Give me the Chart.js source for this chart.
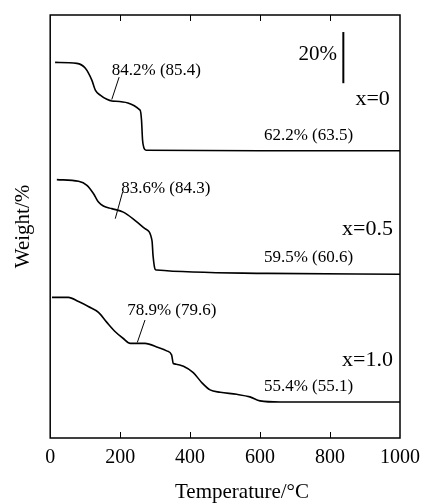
<!DOCTYPE html>
<html>
<head>
<meta charset="utf-8">
<script src="https://cdn.jsdelivr.net/npm/chart.js@4/dist/chart.umd.min.js"></script>
<style>
  html, body { margin: 0; padding: 0; background: #fff; }
  #wrap { width: 423px; height: 504px; }
</style>
</head>
<body>
<div id="wrap"><canvas id="tga"></canvas></div>
<script>
// TGA curves (temperature in C, weight in %)
const temps0 = [14, 76, 100, 119, 129, 143, 162, 176, 257, 261, 264, 268, 274, 600, 1000];
const weights0 = [100, 99.6, 97.6, 92.4, 88.1, 86.0, 84.2, 83.5, 79.6, 75.4, 66.8, 63.4, 62.4, 62.2, 62.2];

const temps05 = [19, 81, 105, 124, 138, 152, 176, 209, 243, 271, 291, 294, 300, 304, 619, 1000];
const weights05 = [100, 99.3, 97.6, 94.0, 90.4, 88.7, 87.6, 86.1, 82.5, 79.0, 73.9, 67.5, 61.6, 61.3, 59.9, 59.5];

const temps10 = [5, 52, 81, 109, 138, 162, 186, 209, 229, 271, 309, 333, 347, 352, 360, 381, 409, 434, 457, 486, 533, 571, 600, 657, 1000];
const weights10 = [100, 100, 98.2, 96.1, 93.6, 89.3, 85.3, 82.4, 80.3, 80.3, 78.5, 77.1, 75.4, 71.7, 71.4, 70.5, 67.8, 63.4, 60.4, 59.4, 58.5, 57.4, 55.7, 55.2, 55.2];

// vertical shift of each curve so they stack
const offsets = [60.8, 10.6, -39.8];
const sampleNames = ["x=0", "x=0.5", "x=1.0"];
const xTicks = [0, 200, 400, 600, 800, 1000];

const serif = "'Liberation Serif', 'DejaVu Serif', serif";

const toPoints = (t, w, off) => t.map((v, i) => ({ x: v, y: w[i] + off }));

// text notes: [text, T, y, align, size]
const notes = [
    ["84.2% (85.4)", 176, 157.5, "left", 17],
    ["62.2% (63.5)", 611, 129.6, "left", 17],
    ["20%", 820, 164, "right", 21],
    ["x=0", 971, 145.1, "right", 22],
    ["83.6% (84.3)", 203, 106.7, "left", 17],
    ["x=0.5", 980, 89.6, "right", 22],
    ["59.5% (60.6)", 611, 77.4, "left", 17],
    ["78.9% (79.6)", 220, 54.5, "left", 17],
    ["x=1.0", 980, 33.3, "right", 22],
    ["55.4% (55.1)", 611, 21.9, "left", 17]
];
// leader lines and the 20% scale bar: [T1, y1, T2, y2, width]
const segs = [
    [197, 154.5, 176, 144.9, 1],
    [207, 105.3, 186, 93.9, 1],
    [271, 50.5, 249, 40.9, 1],
    [838, 173.8, 838, 151.9, 2]
];

const decor = {
    id: "decor",
    afterDraw(chart) {
        const ctx = chart.ctx;
        const a = chart.chartArea;
        const xs = chart.scales.x, ys = chart.scales.y;
        ctx.save();
        ctx.strokeStyle = "#000";
        ctx.lineWidth = 1.5;
        ctx.strokeRect(a.left, a.top, a.right - a.left, a.bottom - a.top);
        // inward ticks top and bottom
        ctx.lineWidth = 1;
        xTicks.slice(1, -1).forEach(t => {
            const px = Math.round(xs.getPixelForValue(t)) + 0.5;
            ctx.beginPath();
            ctx.moveTo(px, a.bottom); ctx.lineTo(px, a.bottom - 6);
            ctx.moveTo(px, a.top); ctx.lineTo(px, a.top + 6);
            ctx.stroke();
        });
        segs.forEach(s => {
            ctx.lineWidth = s[4];
            ctx.beginPath();
            ctx.moveTo(xs.getPixelForValue(s[0]), ys.getPixelForValue(s[1]));
            ctx.lineTo(xs.getPixelForValue(s[2]), ys.getPixelForValue(s[3]));
            ctx.stroke();
        });
        ctx.fillStyle = "#000";
        ctx.textBaseline = "middle";
        notes.forEach(n => {
            ctx.font = n[4] + "px " + serif;
            ctx.textAlign = n[3];
            ctx.fillText(n[0], xs.getPixelForValue(n[1]), ys.getPixelForValue(n[2]));
        });
        ctx.font = "21px " + serif;
        ctx.textAlign = "center";
        ctx.fillText("Temperature/\u00B0C", 242, 492);
        ctx.restore();
    }
};

new Chart(document.getElementById("tga"), {
    type: "line",
    data: {
        datasets: [
            { label: sampleNames[0], data: toPoints(temps0, weights0, offsets[0]) },
            { label: sampleNames[1], data: toPoints(temps05, weights05, offsets[1]) },
            { label: sampleNames[2], data: toPoints(temps10, weights10, offsets[2]) }
        ].map(d => Object.assign(d, {
            borderColor: "#000",
            borderWidth: 1.6,
            pointRadius: 0,
            fill: false,
            cubicInterpolationMode: "monotone"
        }))
    },
    options: {
        responsive: true,
        maintainAspectRatio: false,
        animation: false,
        layout: { padding: { left: 0, right: 23, top: 15, bottom: 26 } },
        plugins: { legend: { display: false }, tooltip: { enabled: false } },
        scales: {
            x: {
                type: "linear",
                min: 0,
                max: 1000,
                afterBuildTicks: s => { s.ticks = xTicks.map(v => ({ value: v })); },
                // labels may overflow the padding, keep the plot box where it is
                afterFit: s => { s.paddingRight = 0; s.paddingLeft = 0; },
                grid: { display: false, drawTicks: false },
                border: { display: false },
                ticks: {
                    color: "#000",
                    padding: 8,
                    maxRotation: 0,
                    font: { family: serif, size: 20 },
                    callback: v => String(v)
                },
                title: { display: false }
            },
            y: {
                min: 0,
                max: 181.1,
                grid: { display: false, drawTicks: false },
                border: { display: false },
                ticks: { display: false },
                title: {
                    display: true,
                    text: "Weight/%",
                    color: "#000",
                    font: { family: serif, size: 21 },
                    padding: { top: 11, bottom: 14 }
                }
            }
        }
    },
    plugins: [decor]
});
</script>
</body>
</html>
